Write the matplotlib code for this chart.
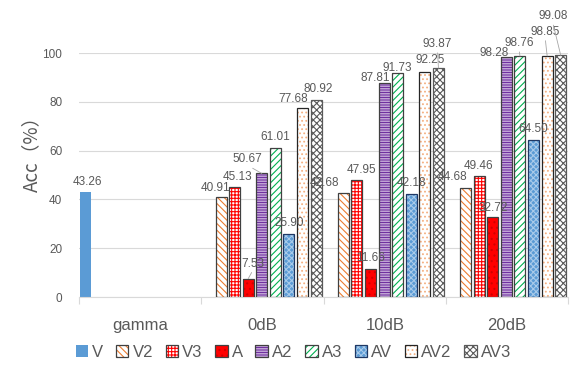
import matplotlib.pyplot as plt
from matplotlib.patches import Rectangle

plt.rcParams['font.family'] = ['Liberation Sans', 'Noto Sans CJK SC', 'DejaVu Sans']
plt.rcParams['hatch.linewidth'] = 0.8

groups = ['gamma', '0dB', '10dB', '20dB']
series = ['V', 'V2', 'V3', 'A', 'A2', 'A3', 'AV', 'AV2', 'AV3']

V   = [43.26, None, None, None]
V2  = [None, 40.91, 42.68, 44.68]
V3  = [None, 45.13, 47.95, 49.46]
A   = [None, 7.53, 11.66, 32.72]
A2  = [None, 50.67, 87.81, 98.28]
A3  = [None, 61.01, 91.73, 98.76]
AV  = [None, 25.90, 42.18, 64.50]
AV2 = [None, 77.68, 92.25, 98.85]
AV3 = [None, 80.92, 93.87, 99.08]
values = [V, V2, V3, A, A2, A3, AV, AV2, AV3]

# (face, hatch, hatch colour, outline colour)
styles = [
    ('#5B9BD5', None, None, None),
    ('white', '\\' * 5, '#ED7D31', '#404040'),
    ('white', '+' * 5, '#FF0000', '#404040'),
    ('#FF0000', '.' * 3, '#D00000', '#404040'),
    ('white', '-' * 10, '#7030A0', '#404040'),
    ('white', '/' * 5, '#00B050', '#404040'),
    ('#5B9BD5', 'x' * 6, '#A9CBEA', '#1F3864'),
    ('white', '.' * 4, '#F4B183', '#262626'),
    ('white', 'x' * 5, '#595959', '#595959'),
]

# label nudges in pixels (dx, dy above bar top, leader line)
nudge = {
    (0, 0): (2, 10, False),
    (1, 1): (-6, 9, False), (1, 2): (3, 10, False), (1, 3): (5, 15, True),
    (1, 4): (-14, 14, True), (1, 7): (-9, 9, False), (1, 8): (2, 11, False),
    (2, 1): (-19, 10, False), (2, 2): (5, 10, False), (2, 4): (-9, 5, False),
    (2, 5): (0, 5, False), (2, 7): (5, 12, False), (2, 8): (-1, 24, True),
    (3, 1): (-13, 11, False), (3, 2): (-1, 10, False), (3, 3): (0, 9, False),
    (3, 4): (-12, 4, False), (3, 5): (-1, 13, True), (3, 7): (-2, 24, True),
    (3, 8): (-8, 39, True),
}

fig = plt.figure(figsize=(5.81, 3.69), dpi=100)
ax = fig.add_axes([0.136, 0.195, 0.842, 0.661])

n = len(series)
w = 0.81 / n
handles = []
for j, (name, vals) in enumerate(zip(series, values)):
    face, hatch, hcol, ecol = styles[j]
    xs = [i + (j + 0.45) / n for i, v in enumerate(vals) if v is not None]
    hs = [v for v in vals if v is not None]
    if hatch:
        ax.bar(xs, hs, w, color=face, hatch=hatch, edgecolor=hcol, linewidth=0, zorder=2)
        ax.bar(xs, hs, w, fill=False, edgecolor=ecol, linewidth=0.9, zorder=3)
        handles.append((Rectangle((0, 0), 1, 1, facecolor=face, hatch=hatch, edgecolor=hcol, linewidth=0),
                        Rectangle((0, 0), 1, 1, fill=False, edgecolor=ecol, linewidth=0.9)))
    else:
        ax.bar(xs, hs, w, color=face, linewidth=0, zorder=2)
        handles.append(Rectangle((0, 0), 1, 1, facecolor=face, linewidth=0))
    for i, v in enumerate(vals):
        if v is None:
            continue
        dx, dy, lead = nudge.get((i, j), (0, 11, False))
        x = i + (j + 0.45) / n
        kw = {}
        if lead:
            kw['arrowprops'] = dict(arrowstyle='-', color='#A6A6A6', lw=0.6,
                                    shrinkA=0, shrinkB=0, relpos=(0.5, 0))
        ax.annotate(f'{v:.2f}', xy=(x, v), xytext=(dx, dy), textcoords='offset pixels',
                    ha='center', va='center', fontsize=8.5, color='#595959',
                    annotation_clip=False, zorder=5, **kw)

ax.set_xlim(0, len(groups))
ax.set_ylim(0, 100)
ax.set_yticks(range(0, 101, 20))
ax.yaxis.grid(True, color='#D9D9D9', linewidth=0.8, zorder=0)
ax.set_axisbelow(True)
ax.tick_params(axis='y', length=0, pad=12, labelsize=8.5, labelcolor='#595959')

ax.set_xticks(range(len(groups) + 1))
ax.set_xticklabels([])
ax.set_xticks([i + 0.5 for i in range(len(groups))], minor=True)
ax.set_xticklabels(groups, minor=True)
ax.tick_params(axis='x', which='major', length=5, color='#D9D9D9', width=0.8)
ax.tick_params(axis='x', which='minor', length=0, pad=15, labelsize=12, labelcolor='#595959')

for s in ['top', 'right', 'left']:
    ax.spines[s].set_visible(False)
ax.spines['bottom'].set_color('#D9D9D9')

fig.text(0.054, 0.596, 'Acc（%）', rotation=90, ha='center', va='center',
         fontsize=13.5, color='#595959', family=['Noto Sans CJK SC', 'DejaVu Sans'])

fig.legend(handles, series, loc='center', bbox_to_anchor=(0.505, 0.046), ncol=n,
           frameon=False, fontsize=12, handlelength=0.75, handleheight=0.75,
           handletextpad=0.25, columnspacing=0.75, labelcolor='#595959')

fig.savefig('out.png', dpi=100)
